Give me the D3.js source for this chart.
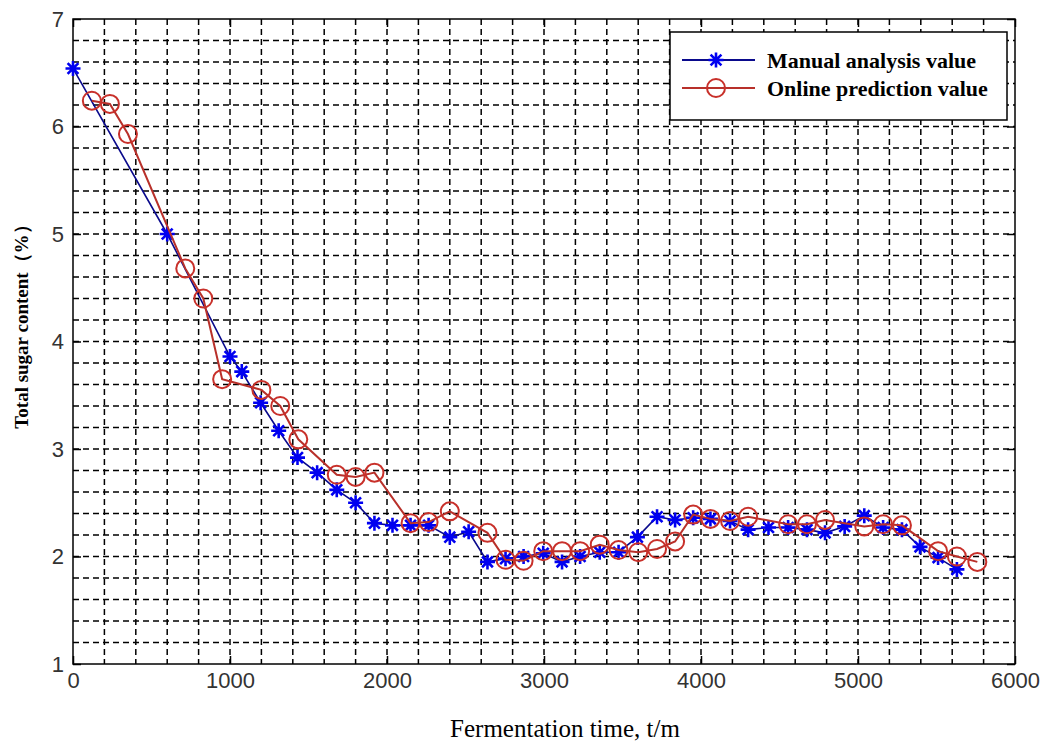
<!DOCTYPE html>
<html>
<head>
<meta charset="utf-8">
<script src="https://cdn.jsdelivr.net/npm/d3@7"></script>
<style>
  body { margin: 0; background: #fff; overflow: hidden; }
  svg { display: block; }
</style>
</head>
<body>
<div id="chart"></div>
<script>
'use strict';

// fermentation time (min) and total sugar (%)
var manualTime = [0, 600, 1000, 1075, 1195, 1310, 1430, 1555, 1680, 1800, 1920, 2035, 2150, 2265,
  2400, 2520, 2640, 2755, 2870, 2995, 3115, 3230, 3355, 3475, 3595, 3720, 3835, 3950, 4060,
  4185, 4300, 4430, 4555, 4675, 4790, 4915, 5040, 5160, 5280, 5395, 5510, 5630];
var manualSugar = [6.54, 5.0, 3.86, 3.72, 3.43, 3.17, 2.92, 2.78, 2.62, 2.50, 2.31, 2.29, 2.29, 2.29,
  2.18, 2.23, 1.95, 1.98, 2.0, 2.03, 1.95, 2.0, 2.04, 2.04, 2.18, 2.37, 2.34, 2.36, 2.35,
  2.33, 2.25, 2.27, 2.27, 2.25, 2.22, 2.28, 2.38, 2.27, 2.25, 2.09, 1.99, 1.88];

var onlineTime = [120, 235, 350, 715, 830, 950, 1200, 1320, 1435, 1680, 1800, 1920, 2150, 2265,
  2400, 2640, 2755, 2870, 2995, 3115, 3230, 3355, 3475, 3600, 3720, 3835, 3950, 4060, 4185,
  4300, 4555, 4675, 4790, 5040, 5160, 5280, 5510, 5630, 5760];
var onlineSugar = [6.24, 6.21, 5.93, 4.68, 4.40, 3.65, 3.55, 3.40, 3.09, 2.76, 2.74, 2.78, 2.31, 2.32,
  2.42, 2.22, 1.97, 1.96, 2.05, 2.05, 2.05, 2.11, 2.06, 2.04, 2.07, 2.14, 2.39, 2.35, 2.33,
  2.37, 2.30, 2.30, 2.34, 2.28, 2.30, 2.29, 2.05, 2.00, 1.95];

var xTicks = [0, 1000, 2000, 3000, 4000, 5000, 6000];
var yTicks = [1, 2, 3, 4, 5, 6, 7];
var seriesNames = ['Manual analysis value', 'Online prediction value'];

var width = 1046, height = 747;
var margin = { left: 73, top: 19, right: 31, bottom: 83 };
var innerWidth = width - margin.left - margin.right;
var innerHeight = height - margin.top - margin.bottom;

var blueLine = '#0a0a8c', blueMark = '#0000f0';
var redLine = '#b8302a', redMark = '#c8302a';
var serif = '"Liberation Serif", "Times New Roman", serif';

var root = d3.select('#chart').append('svg')
  .attr('width', width)
  .attr('height', height);

var chart = root.append('g')
  .attr('transform', 'translate(' + margin.left + ',' + margin.top + ')');

var x = d3.scaleLinear().domain([0, 6000]).range([0, innerWidth]);
var y = d3.scaleLinear().domain([1, 7]).range([innerHeight, 0]);

// dashed grid every 200 / 0.2
var gridX = d3.range(200, 6000, 200);
var gridY = d3.range(1.2, 6.95, 0.2);

chart.selectAll('line.gx').data(gridX).enter().append('line')
  .attr('class', 'gx')
  .attr('x1', function(d) { return x(d); }).attr('x2', function(d) { return x(d); })
  .attr('y1', 0).attr('y2', innerHeight)
  .attr('stroke', '#000').attr('stroke-width', 1.5).attr('stroke-dasharray', '6,4');

chart.selectAll('line.gy').data(gridY).enter().append('line')
  .attr('class', 'gy')
  .attr('x1', 0).attr('x2', innerWidth)
  .attr('y1', function(d) { return y(d); }).attr('y2', function(d) { return y(d); })
  .attr('stroke', '#000').attr('stroke-width', 1.5).attr('stroke-dasharray', '6,4');

// axes, ticks pointing inward
var xAxis = d3.axisBottom(x).tickValues(xTicks).tickSize(-8).tickPadding(8).tickFormat(d3.format('d'));
var yAxis = d3.axisLeft(y).tickValues(yTicks).tickSize(-8).tickPadding(9).tickFormat(d3.format('d'));

var gx = chart.append('g')
  .attr('transform', 'translate(0,' + innerHeight + ')')
  .call(xAxis);
var gy = chart.append('g').call(yAxis);

[gx, gy].forEach(function(g) {
  g.select('.domain').remove();
  g.attr('font-size', 22).attr('font-family', '"Liberation Sans", Arial, sans-serif');
  g.selectAll('line').attr('stroke', '#000').attr('stroke-width', 1.5);
  g.selectAll('text').attr('fill', '#333');
});

chart.append('g').call(d3.axisTop(x).tickValues(xTicks).tickSize(-8).tickFormat(''))
  .call(function(g) { g.select('.domain').remove(); g.selectAll('line').attr('stroke', '#000').attr('stroke-width', 1.5); });
chart.append('g').attr('transform', 'translate(' + innerWidth + ',0)')
  .call(d3.axisRight(y).tickValues(yTicks).tickSize(-8).tickFormat(''))
  .call(function(g) { g.select('.domain').remove(); g.selectAll('line').attr('stroke', '#000').attr('stroke-width', 1.5); });

chart.append('rect')
  .attr('width', innerWidth).attr('height', innerHeight)
  .attr('fill', 'none').attr('stroke', '#000').attr('stroke-width', 1.5);

// series
var manual = manualTime.map(function(t, i) { return { t: t, v: manualSugar[i] }; });
var online = onlineTime.map(function(t, i) { return { t: t, v: onlineSugar[i] }; });

var line = d3.line()
  .x(function(d) { return x(d.t); })
  .y(function(d) { return y(d.v); });

var star = function(r) {
  var k = r * 0.72;
  return 'M' + (-r) + ',0L' + r + ',0M0,' + (-r) + 'L0,' + r +
    'M' + (-k) + ',' + (-k) + 'L' + k + ',' + k + 'M' + (-k) + ',' + k + 'L' + k + ',' + (-k);
};

chart.append('path').datum(manual)
  .attr('d', line).attr('fill', 'none')
  .attr('stroke', blueLine).attr('stroke-width', 1.6);

chart.selectAll('path.star').data(manual).enter().append('path')
  .attr('class', 'star')
  .attr('transform', function(d) { return 'translate(' + x(d.t) + ',' + y(d.v) + ')'; })
  .attr('d', star(7.5))
  .attr('stroke', blueMark).attr('stroke-width', 2.6).attr('fill', 'none');

chart.append('path').datum(online)
  .attr('d', line).attr('fill', 'none')
  .attr('stroke', redLine).attr('stroke-width', 2);

chart.selectAll('circle.pt').data(online).enter().append('circle')
  .attr('class', 'pt')
  .attr('cx', function(d) { return x(d.t); })
  .attr('cy', function(d) { return y(d.v); })
  .attr('r', 9)
  .attr('fill', 'none').attr('stroke', redMark).attr('stroke-width', 2);

// legend
var legend = chart.append('g').attr('transform', 'translate(' + (670 - margin.left) + ',' + (32 - margin.top) + ')');
legend.append('rect')
  .attr('width', 337).attr('height', 88)
  .attr('fill', '#fff').attr('stroke', '#000').attr('stroke-width', 1.5);

var rows = legend.selectAll('g.row').data(seriesNames).enter().append('g')
  .attr('class', 'row')
  .attr('transform', function(d, i) { return 'translate(0,' + (28 + i * 28) + ')'; });

rows.append('line')
  .attr('x1', 12).attr('x2', 85).attr('y1', 0).attr('y2', 0)
  .attr('stroke', function(d, i) { return i === 0 ? blueLine : redLine; })
  .attr('stroke-width', 2);

rows.filter(function(d, i) { return i === 0; }).append('path')
  .attr('transform', 'translate(46,0)')
  .attr('d', star(7.5))
  .attr('stroke', blueMark).attr('stroke-width', 2.6).attr('fill', 'none');

rows.filter(function(d, i) { return i === 1; }).append('circle')
  .attr('cx', 46).attr('cy', 0).attr('r', 9)
  .attr('fill', 'none').attr('stroke', redMark).attr('stroke-width', 2);

rows.append('text')
  .attr('x', 97).attr('y', 0).attr('dy', '0.35em')
  .attr('font-family', serif)
  .attr('font-weight', 'bold')
  .attr('font-size', 22)
  .attr('fill', '#000')
  .text(function(d) { return d; });

// axis titles
root.append('text')
  .attr('x', 565).attr('y', 737)
  .attr('text-anchor', 'middle')
  .attr('font-family', serif)
  .attr('font-size', 25)
  .attr('fill', '#000')
  .text('Fermentation time, t/m');

root.append('text')
  .attr('transform', 'translate(28,322) rotate(-90)')
  .attr('text-anchor', 'middle')
  .attr('font-family', serif)
  .attr('font-weight', 'bold')
  .attr('font-size', 19)
  .attr('fill', '#000')
  .text('Total sugar content（%）');
</script>
</body>
</html>
